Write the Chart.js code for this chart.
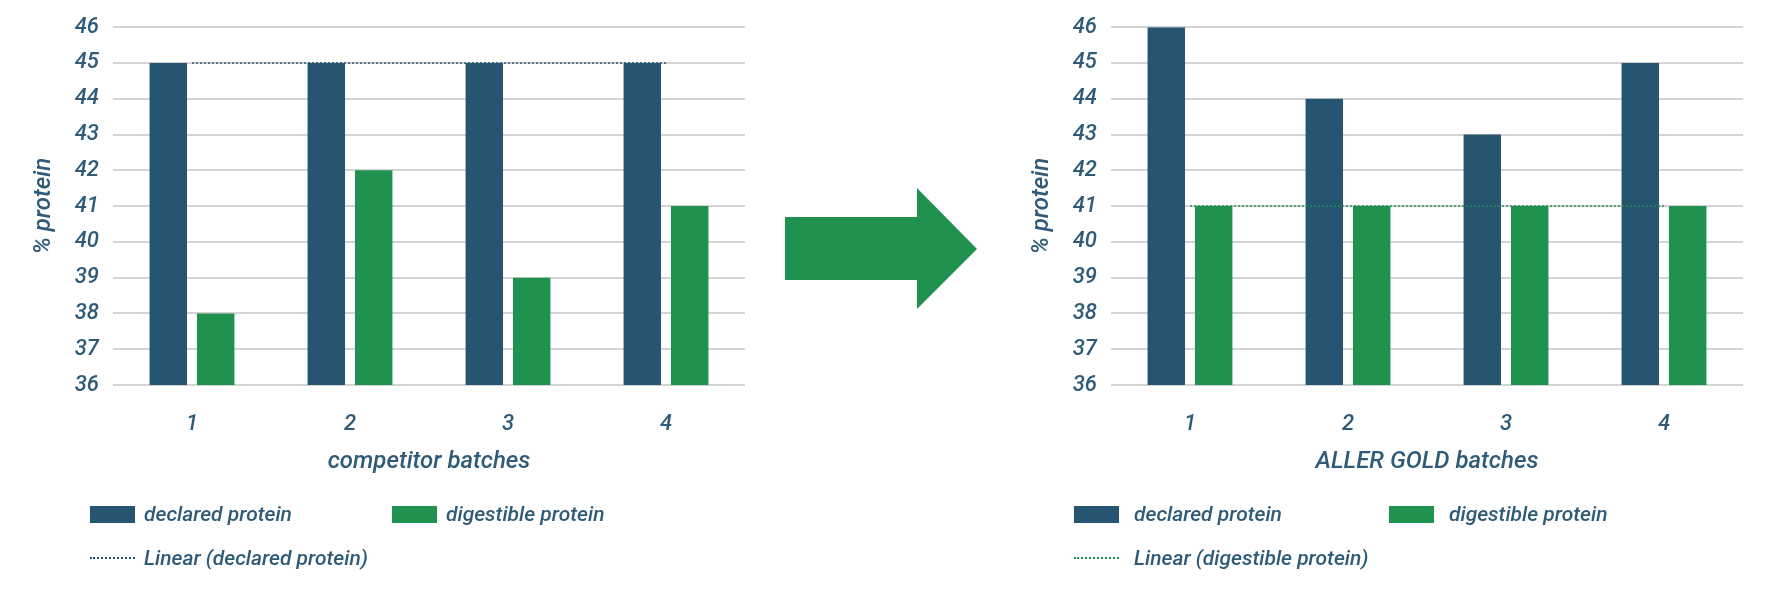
<!DOCTYPE html>
<html>
<head>
<meta charset="utf-8">
<script src="https://cdn.jsdelivr.net/npm/chart.js@4"></script>
<style>
  body { margin: 0; background: #fff; width: 1772px; height: 591px; position: relative; overflow: hidden;
         font-family: Roboto, sans-serif; font-style: italic; font-weight: 500; color: #2f5b78; }
  .wrap { position: absolute; top: 0; width: 745px; height: 480px; }
  .leg { position: absolute; font-size: 21px; line-height: 22px; white-space: nowrap; }
  .sw { position: absolute; width: 45px; height: 17px; }
  .dot { position: absolute; width: 45px; border-top: 2px dotted; }
</style>
</head>
<body>
<div class="wrap" style="left:0"><canvas id="leftChart"></canvas></div>
<div class="wrap" style="left:998px"><canvas id="rightChart"></canvas></div>
<svg style="position:absolute;left:0;top:0" width="1772" height="591">
  <polygon points="785,217 917,217 917,188 977,249 917,309 917,280 785,280" fill="#21914f"/>
</svg>

<div class="sw" style="left:90px;top:506px;background:#255570"></div>
<div class="leg" style="left:144px;top:503px">declared protein</div>
<div class="sw" style="left:392px;top:506px;background:#21914f"></div>
<div class="leg" style="left:446px;top:503px">digestible protein</div>
<div class="dot" style="left:90px;top:557px;color:#255570"></div>
<div class="leg" style="left:144px;top:547px">Linear (declared protein)</div>

<div class="sw" style="left:1074px;top:506px;background:#255570"></div>
<div class="leg" style="left:1134px;top:503px">declared protein</div>
<div class="sw" style="left:1389px;top:506px;background:#21914f"></div>
<div class="leg" style="left:1449px;top:503px">digestible protein</div>
<div class="dot" style="left:1074px;top:557px;color:#21914f"></div>
<div class="leg" style="left:1134px;top:547px">Linear (digestible protein)</div>

<script>
const batches = ["1", "2", "3", "4"];
const competitorDeclared = [45, 45, 45, 45];
const competitorDigestible = [38, 42, 39, 41];
const allerDeclared = [46, 44, 43, 45];
const allerDigestible = [41, 41, 41, 41];
const yMin = 36;
const yMax = 46;

const blue = "#255570";
const green = "#21914f";
const textColor = "#2f5b78";

function drawChart(id, title, declared, digestible, trend, trendColor) {
    const ctx = document.getElementById(id).getContext("2d");
    return new Chart(ctx, {
        data: {
            labels: batches,
            datasets: [
                {
                    type: "line",
                    data: trend,
                    borderColor: trendColor,
                    borderWidth: 1.5,
                    borderDash: [2, 2],
                    pointRadius: 0,
                    fill: false
                },
                { type: "bar", data: declared.map(v => [yMin, v]), backgroundColor: blue },
                { type: "bar", data: digestible.map(v => [yMin, v]), backgroundColor: green }
            ]
        },
        options: {
            responsive: true,
            maintainAspectRatio: false,
            animation: false,
            layout: { padding: { top: 14, right: 0, left: 0, bottom: 0 } },
            datasets: { bar: { categoryPercentage: 0.6, barPercentage: 0.79 } },
            plugins: { legend: { display: false }, tooltip: { enabled: false } },
            scales: {
                x: {
                    grid: { display: false },
                    border: { display: false },
                    ticks: { color: textColor, padding: 18, font: { family: "Roboto", style: "italic", weight: 500, size: 22 } },
                    title: { display: true, text: title, color: textColor, padding: { top: 8 },
                             font: { family: "Roboto", style: "italic", weight: 500, size: 24 } },
                    afterFit: s => { s.height = 95; }
                },
                y: {
                    min: yMin,
                    max: yMax,
                    ticks: { stepSize: 1, color: textColor, padding: 14, font: { family: "Roboto", style: "italic", weight: 500, size: 22 } },
                    grid: { color: "#d4d4d4", lineWidth: 2, drawTicks: false },
                    border: { display: false },
                    title: { display: true, text: "% protein", color: textColor, padding: { top: 30, bottom: 0 },
                             font: { family: "Roboto", style: "italic", weight: 500, size: 24 } },
                    afterFit: s => { s.width = 113; }
                }
            }
        }
    });
}

drawChart("leftChart", "competitor batches", competitorDeclared, competitorDigestible, competitorDeclared, blue);
drawChart("rightChart", "ALLER GOLD batches", allerDeclared, allerDigestible, allerDigestible, green);
</script>
</body>
</html>
